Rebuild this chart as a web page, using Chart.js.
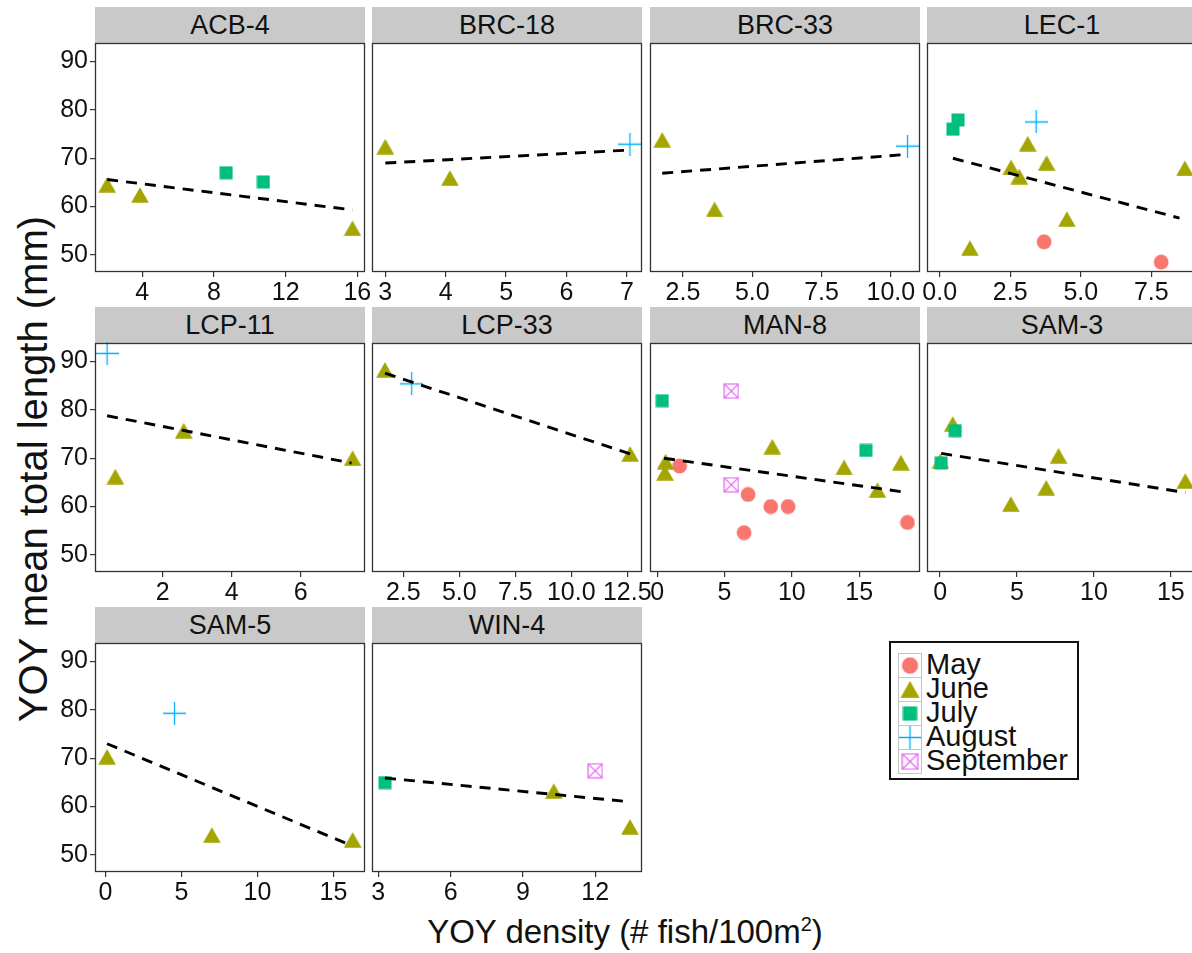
<!DOCTYPE html>
<html><head><meta charset="utf-8">
<script src="https://cdn.jsdelivr.net/npm/chart.js@4.4.1/dist/chart.umd.min.js"></script>
<style>
html,body{margin:0;padding:0;}
body{width:1192px;height:953px;overflow:hidden;background:#fff;position:relative;font-family:"Liberation Sans",Arial,sans-serif;color:#111;}
.strip{position:absolute;width:270px;height:36px;background:#c9c9c9;text-align:center;font-size:27px;line-height:37px;color:#111;}
.cv{position:absolute;}
#xtitle{position:absolute;left:0;width:1250px;text-align:center;top:912px;font-size:33px;line-height:40px;}
#ytitle{position:absolute;left:33px;top:469px;font-size:40px;white-space:nowrap;transform:translate(-50%,-50%) rotate(-90deg);}
#legend{position:absolute;left:889px;top:641px;width:186px;height:135px;border:2px solid #111;background:#fff;}
.lrow{position:absolute;left:7px;height:24px;}
.lkey{position:absolute;left:0;top:0;width:22px;height:23px;border:1px solid #c4c4c4;background:#fff;}
.llab{position:absolute;left:28px;top:-4px;font-size:29px;line-height:30px;white-space:nowrap;}
</style>
</head><body>
<div id="ytitle">YOY mean total length (mm)</div>
<div id="xtitle">YOY density (# fish/100m<sup style="font-size:20px;vertical-align:12px;line-height:0">2</sup>)</div>
<div id="legend"></div>
<script>
// ---------------- DATA ----------------
const MONTHS = ["May", "June", "July", "August", "September"];
const PANELS = ["ACB-4", "BRC-18", "BRC-33", "LEC-1", "LCP-11", "LCP-33", "MAN-8", "SAM-3", "SAM-5", "WIN-4"];

// points: [month, YOY density, YOY mean total length]
const ACB4_pts = [["June",2.04,64.5],["June",3.87,62.4],["July",8.68,67.0],["July",10.76,65.1],["June",15.73,55.5]];
const BRC18_pts = [["June",3.0,72.4],["June",4.07,65.9],["August",7.05,72.9]];
const BRC33_pts = [["June",1.75,73.8],["June",3.64,59.4],["August",10.6,72.5]];
const LEC1_pts = [["May",3.70,52.7],["May",7.85,48.5],
  ["June",3.12,73.0],["June",3.79,69.0],["June",2.53,68.1],["June",2.82,66.2],["June",8.69,67.9],["June",4.51,57.4],["June",1.07,51.4],
  ["July",0.47,76.0],["July",0.65,77.9],["August",3.42,77.5]];
const LCP11_pts = [["June",0.63,66.2],["June",2.61,75.7],["June",7.50,70.0],["August",0.39,91.7]];
const LCP33_pts = [["June",1.68,88.3],["June",12.63,70.9],["August",2.87,85.4]];
const MAN8_pts = [["May",1.66,68.4],["May",6.75,62.5],["May",6.45,54.6],["May",8.43,60.0],["May",9.72,60.0],["May",18.59,56.7],
  ["June",0.62,69.3],["June",0.57,67.0],["June",8.55,72.4],["June",13.88,68.1],["June",16.36,63.4],["June",18.1,69.1],
  ["July",0.37,81.9],["July",15.5,71.6],["September",5.5,83.9],["September",5.5,64.5]];
const SAM3_pts = [["June",0.82,77.1],["June",0.02,69.4],["June",7.7,70.5],["June",6.9,63.9],["June",4.6,60.5],["June",15.94,65.3],
  ["July",0.98,75.7],["July",0.07,69.0]];
const SAM5_pts = [["June",0.11,70.3],["June",7.0,54.1],["June",16.26,53.1],["August",4.55,79.3]];
const WIN4_pts = [["June",10.28,63.2],["June",13.44,55.8],["July",3.28,64.95],["September",12.0,67.4]];

// dashed trend line end points: [density, length]
const ACB4_fit = [[2.04,65.6],[15.73,59.3]];
const BRC18_fit = [[3.0,69.0],[7.05,71.7]];
const BRC33_fit = [[1.75,66.9],[10.6,70.8]];
const LEC1_fit = [[0.47,70.0],[8.5,57.6]];
const LCP11_fit = [[0.39,78.8],[7.47,69.0]];
const LCP33_fit = [[1.68,87.6],[12.63,70.9]];
const MAN8_fit = [[0.5,70.0],[18.59,62.9]];
const SAM3_fit = [[0.07,71.0],[15.94,62.9]];
const SAM5_fit = [[0.11,73.0],[16.2,51.9]];
const WIN4_fit = [[3.28,65.9],[13.4,61.0]];

// x tick labels per panel
const ACB4_ticks = ["4","8","12","16"];
const BRC18_ticks = ["3","4","5","6","7"];
const BRC33_ticks = ["2.5","5.0","7.5","10.0"];
const LEC1_ticks = ["0.0","2.5","5.0","7.5"];
const LCP11_ticks = ["2","4","6"];
const LCP33_ticks = ["2.5","5.0","7.5","10.0","12.5"];
const MAN8_ticks = ["0","5","10","15"];
const SAM3_ticks = ["0","5","10","15"];
const SAM5_ticks = ["0","5","10","15"];
const WIN4_ticks = ["3","6","9","12"];
const Y_TICKS = ["50","60","70","80","90"];

// x axis limits per panel
const X_LIMITS = [[1.36,16.43],[2.78,7.25],[1.31,11.05],[-0.45,9.12],[0.04,7.86],[1.1,13.16],[-0.54,19.52],[-0.85,16.7],[-0.68,17.07],[2.74,13.94]];
const Y_LIMITS = [46.45, 93.85];

const PANEL_POINTS = [ACB4_pts,BRC18_pts,BRC33_pts,LEC1_pts,LCP11_pts,LCP33_pts,MAN8_pts,SAM3_pts,SAM5_pts,WIN4_pts];
const PANEL_FITS = [ACB4_fit,BRC18_fit,BRC33_fit,LEC1_fit,LCP11_fit,LCP33_fit,MAN8_fit,SAM3_fit,SAM5_fit,WIN4_fit];
const PANEL_TICKS = [ACB4_ticks,BRC18_ticks,BRC33_ticks,LEC1_ticks,LCP11_ticks,LCP33_ticks,MAN8_ticks,SAM3_ticks,SAM5_ticks,WIN4_ticks];

// ---------------- STYLE ----------------
const COLORS = {May:"#F8766D", June:"#A3A500", July:"#00BF7D", August:"#00B0F6", September:"#E76BF3"};
const FONT = '"Liberation Sans", Arial, sans-serif';
const COL_LEFT = [95, 372, 650, 927];
const ROW_TOP = [7, 307, 607];
const PW = 270, PH = 229, STRIP = 36;
const PADT = 20, PADR = 34, YW = 60, XH = 46;

function marker(month) {
  const c = document.createElement('canvas');
  const ctx = c.getContext('2d');
  const col = COLORS[month];
  if (month === "May") {
    c.width = 16; c.height = 16;
    ctx.fillStyle = col; ctx.beginPath(); ctx.arc(8, 8, 7.4, 0, Math.PI*2); ctx.fill();
  } else if (month === "June") {
    c.width = 18; c.height = 16;
    ctx.fillStyle = col; ctx.beginPath(); ctx.moveTo(9, 0.3); ctx.lineTo(17.8, 15.7); ctx.lineTo(0.2, 15.7); ctx.closePath(); ctx.fill();
  } else if (month === "July") {
    c.width = 14; c.height = 14;
    ctx.fillStyle = col; ctx.fillRect(0.5, 0.5, 13, 13);
  } else if (month === "August") {
    c.width = 23; c.height = 23;
    ctx.strokeStyle = col; ctx.lineWidth = 1.3;
    ctx.beginPath(); ctx.moveTo(0, 11.5); ctx.lineTo(23, 11.5); ctx.moveTo(11.5, 0); ctx.lineTo(11.5, 23); ctx.stroke();
  } else {
    c.width = 16; c.height = 16;
    ctx.strokeStyle = col; ctx.lineWidth = 1.2;
    ctx.strokeRect(1, 1, 14, 14);
    ctx.beginPath(); ctx.moveTo(1, 1); ctx.lineTo(15, 15); ctx.moveTo(15, 1); ctx.lineTo(1, 15); ctx.stroke();
  }
  return c;
}
const MARKERS = {};
MONTHS.forEach(m => MARKERS[m] = marker(m));

const framePlugin = {
  id: 'frame',
  afterDatasetsDraw(chart) {
    const a = chart.chartArea, ctx = chart.ctx;
    ctx.save(); ctx.strokeStyle = '#333'; ctx.lineWidth = 1.3;
    ctx.strokeRect(a.left + 0.5, a.top + 0.5, a.right - a.left - 1, a.bottom - a.top - 1);
    ctx.restore();
  }
};

PANELS.forEach((name, i) => {
  const col = i % 4, row = Math.floor(i / 4);
  const left = COL_LEFT[col], top = ROW_TOP[row];
  const strip = document.createElement('div');
  strip.className = 'strip'; strip.style.left = left + 'px'; strip.style.top = top + 'px';
  strip.textContent = name; document.body.appendChild(strip);

  const cv = document.createElement('canvas');
  cv.className = 'cv';
  const W = YW + PW + PADR, H = PADT + PH + XH;
  cv.width = W; cv.height = H; cv.style.width = W + 'px'; cv.style.height = H + 'px';
  cv.style.left = (left - YW) + 'px'; cv.style.top = (top + STRIP - PADT) + 'px';
  document.body.appendChild(cv);

  const pts = PANEL_POINTS[i];
  const datasets = [];
  MONTHS.forEach((m, k) => {
    const d = pts.filter(p => p[0] === m).map(p => ({x: p[1], y: p[2]}));
    if (!d.length) return;
    datasets.push({label: m, data: d, pointStyle: MARKERS[m], pointRadius: 8, pointHoverRadius: 8,
      showLine: false, clip: false, order: 10 - k});
  });
  datasets.push({label: 'fit', data: PANEL_FITS[i].map(p => ({x: p[0], y: p[1]})), showLine: true,
    borderColor: '#000', borderWidth: 2.9, borderDash: [11, 8], pointRadius: 0, fill: false, clip: false, order: 0});

  const xt = PANEL_TICKS[i];
  new Chart(cv, {
    type: 'scatter',
    data: {datasets},
    options: {
      responsive: false, animation: false, devicePixelRatio: 1,
      layout: {padding: {top: PADT, right: PADR, left: 0, bottom: 0}},
      plugins: {legend: {display: false}, tooltip: {enabled: false}},
      scales: {
        x: {
          type: 'linear', min: X_LIMITS[i][0], max: X_LIMITS[i][1],
          afterBuildTicks: s => { s.ticks = xt.map(v => ({value: parseFloat(v)})); },
          afterFit: s => { s.height = XH; },
          ticks: {autoSkip: false, maxRotation: 0, padding: 1, color: '#111',
            font: {family: FONT, size: 25}, callback: (v, idx) => xt[idx]},
          grid: {display: true, drawOnChartArea: false, drawTicks: true, tickLength: 5, color: '#333', lineWidth: 1.2},
          border: {display: false}
        },
        y: {
          type: 'linear', min: Y_LIMITS[0], max: Y_LIMITS[1],
          afterBuildTicks: s => { s.ticks = Y_TICKS.map(v => ({value: parseFloat(v)})); },
          afterFit: s => { s.width = YW; },
          ticks: {display: col === 0, autoSkip: false, padding: 2, color: '#111',
            font: {family: FONT, size: 25}, callback: (v, idx) => Y_TICKS[idx]},
          grid: {display: col === 0, drawOnChartArea: false, drawTicks: true, tickLength: 5, color: '#333', lineWidth: 1.2},
          border: {display: false}
        }
      }
    },
    plugins: [framePlugin]
  });
});

// legend
const leg = document.getElementById('legend');
MONTHS.forEach((m, k) => {
  const r = document.createElement('div'); r.className = 'lrow'; r.style.top = (10 + k * 24) + 'px';
  const key = document.createElement('div'); key.className = 'lkey';
  const ic = document.createElement('canvas');
  const src = MARKERS[m];
  const s = m === "August" ? 1 : 1.1;
  ic.width = 22; ic.height = 23; ic.style.position = 'absolute'; ic.style.left = '0'; ic.style.top = '0';
  const c2 = ic.getContext('2d');
  const w = src.width * s, h = src.height * s;
  c2.drawImage(src, (22 - w) / 2, (23 - h) / 2, w, h);
  key.appendChild(ic);
  const lab = document.createElement('div'); lab.className = 'llab'; lab.textContent = m;
  r.appendChild(key); r.appendChild(lab); leg.appendChild(r);
});
</script>
</body></html>
